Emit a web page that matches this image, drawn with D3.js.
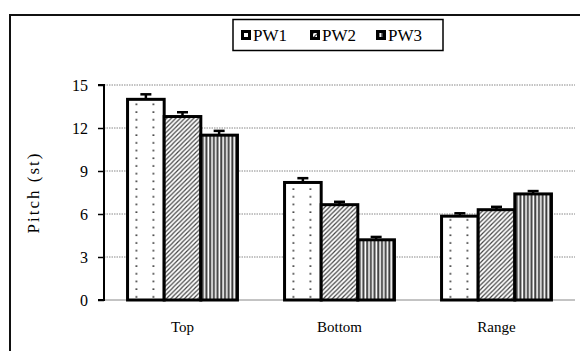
<!DOCTYPE html>
<html>
<head>
<meta charset="utf-8">
<script src="https://cdn.jsdelivr.net/npm/d3@7"></script>
<style>
  html, body { margin: 0; padding: 0; background: #fff; }
  svg { display: block; }
</style>
</head>
<body>
<svg id="chart" width="580" height="351"></svg>
<script>
// Pitch measures per condition
const categories = ["Top", "Bottom", "Range"];
const seriesNames = ["PW1", "PW2", "PW3"];
const pw1 = [14.0, 8.2, 5.85];
const pw2 = [12.8, 6.65, 6.3];
const pw3 = [11.5, 4.2, 7.4];
const pw1Err = [0.35, 0.3, 0.2];
const pw2Err = [0.3, 0.2, 0.2];
const pw3Err = [0.3, 0.2, 0.2];
const yTicks = [0, 3, 6, 9, 12, 15];
const yTitle = "Pitch (st)";

const values = [pw1, pw2, pw3];
const errors = [pw1Err, pw2Err, pw3Err];
const data = categories.map((c, i) => ({
  category: c,
  bars: seriesNames.map((s, k) => ({ series: s, k, value: values[k][i], err: errors[k][i] }))
}));

const svg = d3.select("#chart");
const defs = svg.append("defs");

const margin = { left: 104, right: 5, top: 85, bottom: 51 };
const W = 580, H = 351;

const x0 = d3.scaleBand().domain(categories)
  .range([margin.left, W - margin.right])
  .paddingInner(0.3).paddingOuter(0.15);
const x1 = d3.scaleBand().domain(seriesNames).range([0, x0.bandwidth()]);
const y = d3.scaleLinear().domain([0, 15]).range([H - margin.bottom, margin.top]);

// Fill patterns
// diagonal hatch
const hatch = defs.append("pattern").attr("id", "hatch")
  .attr("patternUnits", "userSpaceOnUse").attr("width", 4.5).attr("height", 4.5);
hatch.append("rect").attr("width", 4.5).attr("height", 4.5).attr("fill", "#fff");
hatch.append("path").attr("d", "M0,4.5 L4.5,0 M-1,1 L1,-1 M3.5,5.5 L5.5,3.5")
  .attr("stroke", "#444").attr("stroke-width", 1.2);
// vertical stripes
const stripes = defs.append("pattern").attr("id", "stripes")
  .attr("patternUnits", "userSpaceOnUse").attr("width", 3.7).attr("height", 4);
stripes.append("rect").attr("width", 3.7).attr("height", 4).attr("fill", "#fff");
stripes.append("rect").attr("x", 0.3).attr("width", 1.5).attr("height", 4).attr("fill", "#2a2a2a");
stripes.append("rect").attr("x", 1.8).attr("width", 0.9).attr("height", 4).attr("fill", "#aaa");
// sparse dots, tiled from the left edge of the first bar in each group
const dots = defs.append("pattern").attr("id", "dots")
  .attr("patternUnits", "userSpaceOnUse")
  .attr("x", x1("PW1")).attr("y", y(15))
  .attr("width", 17).attr("height", 7.7);
dots.append("rect").attr("width", 17).attr("height", 7.7).attr("fill", "#fff");
dots.append("rect").attr("x", 8).attr("y", 3.2).attr("width", 1.6).attr("height", 1.6).attr("fill", "#222");

const fills = ["url(#dots)", "url(#hatch)", "url(#stripes)"];

// Outer frame (top and left edges)
svg.append("path").attr("d", `M10,${H + 5} L10,15 L${W + 5},15`)
  .attr("fill", "none").attr("stroke", "#111").attr("stroke-width", 2);

// Gridlines
svg.append("g").selectAll("line").data(yTicks).join("line")
  .attr("x1", margin.left).attr("x2", W - margin.right)
  .attr("y1", d => y(d)).attr("y2", d => y(d))
  .attr("stroke", "#888").attr("stroke-width", 1)
  .attr("stroke-dasharray", d => d === 0 ? null : "1.5,1");

// Y axis
const yAxis = d3.axisLeft(y).tickValues(yTicks).tickSize(6).tickPadding(10).tickFormat(d3.format("d"));
const yg = svg.append("g").attr("transform", `translate(${margin.left},0)`).call(yAxis);
yg.select(".domain").attr("stroke", "#000").attr("stroke-width", 2).attr("d", `M-6,${y(15)}H0V${y(0)}H-6`);
yg.selectAll(".tick line").attr("stroke", "#000").attr("stroke-width", 1.5);
yg.selectAll(".tick text").attr("font-family", "'Liberation Serif', serif").attr("font-size", 16).attr("fill", "#000").attr("dy", "0.35em");

// Y title
svg.append("text")
  .attr("transform", `translate(39,${(y(0) + y(15)) / 2}) rotate(-90)`)
  .attr("text-anchor", "middle")
  .attr("font-family", "'Liberation Serif', serif").attr("font-size", 17)
  .attr("letter-spacing", 2)
  .text(yTitle);

// X category labels
svg.append("g").selectAll("text").data(categories).join("text")
  .attr("x", d => x0(d) + x0.bandwidth() / 2)
  .attr("y", 332)
  .attr("text-anchor", "middle")
  .attr("font-family", "'Liberation Serif', serif").attr("font-size", 15)
  .text(d => d);

// Bars
const groups = svg.append("g").selectAll("g").data(data).join("g")
  .attr("transform", d => `translate(${x0(d.category)},0)`);

groups.each(function (d) {
  const g = d3.select(this);
  // error bars (upper half only)
  g.selectAll("g.err").data(d.bars).join("g").attr("class", "err").each(function (b) {
    const cx = x1(b.series) + x1.bandwidth() / 2;
    const e = d3.select(this);
    e.append("line").attr("x1", cx).attr("x2", cx)
      .attr("y1", y(b.value)).attr("y2", y(b.value + b.err))
      .attr("stroke", "#000").attr("stroke-width", 2.5);
    e.append("line").attr("x1", cx - 5.5).attr("x2", cx + 5.5)
      .attr("y1", y(b.value + b.err)).attr("y2", y(b.value + b.err))
      .attr("stroke", "#000").attr("stroke-width", 2.5);
  });
  g.selectAll("rect.bar").data(d.bars).join("rect").attr("class", "bar")
    .attr("x", b => x1(b.series))
    .attr("y", b => y(b.value))
    .attr("width", x1.bandwidth())
    .attr("height", b => y(0) - y(b.value))
    .attr("fill", b => fills[b.k])
    .attr("stroke", "#000").attr("stroke-width", 3);
});

// Legend
const lg = svg.append("g");
lg.append("rect").attr("x", 233).attr("y", 19.5).attr("width", 210).attr("height", 31)
  .attr("fill", "#fff").attr("stroke", "#000").attr("stroke-width", 1.5);
const legendX = [241, 310, 376];
const legendFill = ["#fff", "url(#hatch)", "url(#stripes)"];
seriesNames.forEach((s, k) => {
  lg.append("rect").attr("x", legendX[k] + 1.5).attr("y", 31.5)
    .attr("width", 7).attr("height", 7)
    .attr("fill", legendFill[k]).attr("stroke", "#000").attr("stroke-width", 3);
  lg.append("text").attr("x", legendX[k] + 12).attr("y", 41)
    .attr("font-family", "'Liberation Serif', serif").attr("font-size", 17)
    .text(s);
});
</script>
</body>
</html>
